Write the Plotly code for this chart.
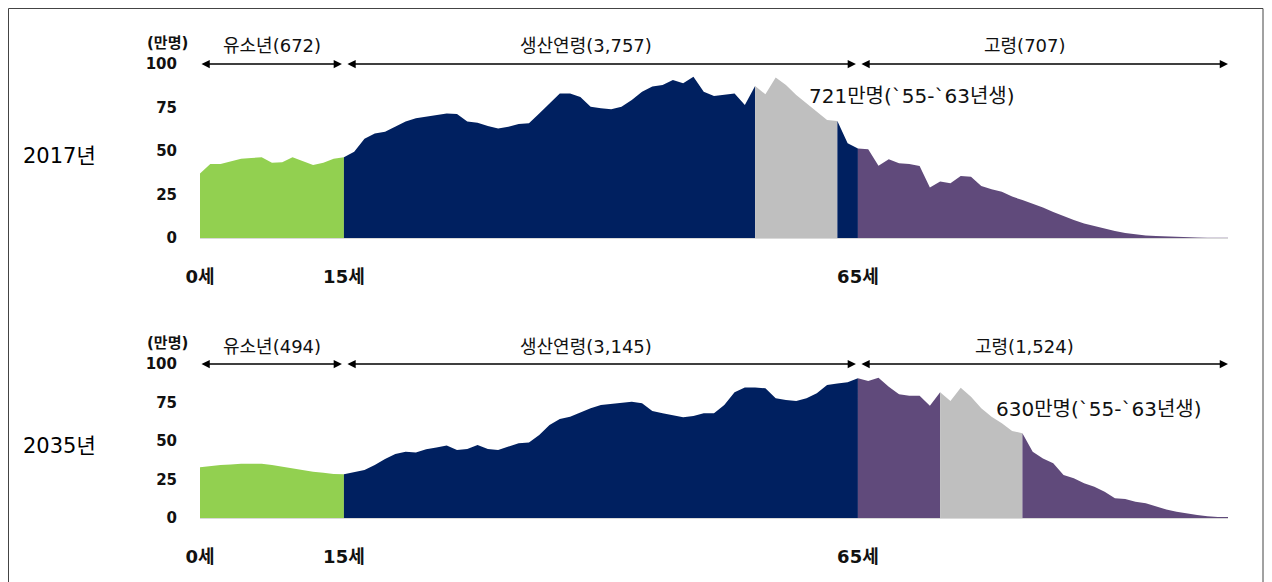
import plotly.graph_objects as go

W, H = 1272, 582
OFF = 8  # the page puts the figure 8px in from the top-left corner

# ages 0..100, population in 만명
ages = list(range(101))

pop_2017 = [
    37, 42.5, 42.5, 44, 45.6, 46, 46.4, 43.3, 43.5, 46.4, 44.3, 42, 43.3, 45.6, 46.4,  # 0-14
    49.6, 57, 60, 61, 64, 67, 68.8, 69.7, 70.7, 71.6,                                 # 15-24
    71.3, 67, 66.3, 64.4, 63, 64, 65.5, 66, 71.6, 77.4,                               # 25-34
    83, 83, 81, 75.5, 74.5, 74, 75.5, 79.3, 84, 87,                                   # 35-44
    88, 90.8, 89, 92.7, 84, 81.6, 82.2, 83, 76.4, 87.4,                               # 45-54
    82.6, 92.3, 88, 82.2, 77.4, 72.6, 67.8, 67.2, 54.4, 51.5,                         # 55-64
    51, 41.5, 45.2, 42.9, 42.5, 41.4, 29, 32.4, 31.4, 35.6,                           # 65-74
    35.2, 29.9, 28, 26.6, 23.8, 21.8, 19.9, 17.6, 15, 12.6,                           # 75-84
    10.3, 8.4, 6.9, 5.4, 4, 2.9, 2.1, 1.5, 1.1, 0.8,                                  # 85-94
    0.6, 0.4, 0.3, 0.2, 0.1, 0.1,                                                     # 95-100
]

pop_2035 = [
    32.9, 33.8, 34.4, 34.8, 35.3, 35.3, 35.3, 34.4, 33.3, 32.3, 31.2, 30.1, 29.4, 28.6, 28.4,  # 0-14
    29.7, 31.2, 34.4, 38.3, 41.6, 43.1, 42.6, 44.6, 45.7, 47,                                 # 15-24
    44.2, 44.8, 47.4, 44.8, 44.2, 46.3, 48.5, 49.1, 53.9, 60.4,                               # 25-34
    64.3, 65.8, 68.6, 71.2, 73.4, 74, 74.5, 75.5, 74.5, 69.5,                                 # 35-44
    68, 66.9, 65.4, 66.2, 68, 68, 73.4, 81.6, 84.8, 84.8,                                     # 45-54
    84.2, 77.7, 76.6, 76, 77.7, 81, 86.4, 87.4, 88.1, 90.7,                                   # 55-64
    89, 91.1, 85.3, 80.3, 79.4, 79.4, 72.9, 81.6, 76, 84.6,                                   # 65-74
    78.8, 71.2, 65.8, 61.5, 56.5, 55, 43.1, 38.7, 35.5, 27.9,                                 # 75-84
    25.8, 22.5, 20.3, 17.1, 12.8, 12.3, 10.6, 9.5, 7.4, 5.6,                                  # 85-94
    4.1, 2.8, 1.9, 1.1, 0.6, 0.6,                                                             # 95-100
]

# age group boundaries (points where the colour changes)
group_bounds = [0, 14, 64, 100]
group_ticks = ["0세", "15세", "65세"]
labels_2017 = ["유소년(672)", "생산연령(3,757)", "고령(707)"]
labels_2035 = ["유소년(494)", "생산연령(3,145)", "고령(1,524)"]

# baby boomers ('55-'63) position in each year
boomer_2017 = (54, 62)
boomer_2035 = (72, 80)
boomer_text_2017 = "721만명(`55-`63년생)"
boomer_text_2035 = "630만명(`55-`63년생)"

years = ["2017년", "2035년"]

GREEN = "#92D050"
NAVY = "#002060"
GRAY = "#BFBFBF"
PURPLE = "#604A7B"
FONT = "DejaVu Sans, Noto Sans CJK KR"

# labels sit a little left of the arrow middles in the original
label_xshift = [0, -15, -18]


def px(x):
    return (x - OFF) / W


def py(y):
    return 1 - (y - OFF) / H


def segments(boomer):
    # cut the age line into coloured pieces
    cuts = sorted(set(group_bounds + list(boomer)))
    out = []
    for a, b in zip(cuts[:-1], cuts[1:]):
        if boomer[0] <= a and b <= boomer[1]:
            col = GRAY
        elif b <= group_bounds[1]:
            col = GREEN
        elif b <= group_bounds[2]:
            col = NAVY
        else:
            col = PURPLE
        out.append((a, b, col))
    return out


fig = go.Figure()

panels = [
    (pop_2017, boomer_2017, labels_2017, boomer_text_2017, "x", "y", (238, 64), (59.0, 81.5)),
    (pop_2035, boomer_2035, labels_2035, boomer_text_2035, "x2", "y2", (518, 364), (77.2, 71)),
]

for i, (pop, boomer, glabels, btext, xa, ya, (py0, py100), bpos) in enumerate(panels):
    for a, b, col in segments(boomer):
        fig.add_trace(go.Scatter(
            x=ages[a:b + 1], y=pop[a:b + 1], xaxis=xa, yaxis=ya,
            mode="lines", fill="tozeroy", fillcolor=col,
            line=dict(width=0, color=col), hoverinfo="skip", showlegend=False,
        ))

    # double-headed arrows and group labels at the 100 line
    for j in range(3):
        a, b = group_bounds[j], group_bounds[j + 1]
        fig.add_annotation(
            x=b, y=100, ax=a, ay=100, xref=xa, yref=ya, axref=xa, ayref=ya,
            text="", showarrow=True, arrowhead=2, arrowside="end+start",
            arrowsize=1.1, arrowwidth=1.5, arrowcolor="#000",
            standoff=2 if j < 2 else 0, startstandoff=2 if j > 0 else 0,
        )
        fig.add_annotation(
            x=(a + b) / 2, y=100, xref=xa, yref=ya, yshift=18,
            xshift=label_xshift[j],
            text=glabels[j], showarrow=False,
            font=dict(family=FONT, size=18, color="#111"),
        )

    fig.add_annotation(
        x=bpos[0], y=bpos[1], xref=xa, yref=ya, xanchor="left", yanchor="middle",
        text=btext, showarrow=False,
        font=dict(family=FONT, size=20, color="#111"),
    )

    # unit label above the y ticks
    fig.add_annotation(
        x=px(167), y=py(py100 - 21), xref="paper", yref="paper",
        xanchor="center", yanchor="middle",
        text="(만명)", showarrow=False,
        font=dict(family=FONT, size=15, color="#111", weight="bold"),
    )

    # year label on the left
    fig.add_annotation(
        x=px(59), y=py((py0 + py100) / 2 + 5), xref="paper", yref="paper",
        xanchor="center", yanchor="middle",
        text=years[i], showarrow=False,
        font=dict(family=FONT, size=21, color="#000"),
    )

xcommon = dict(
    domain=[px(200), px(1228)], range=[0, 100], showgrid=False, zeroline=False,
    showline=True, linecolor="#d9d9d9", linewidth=1, automargin=False,
    tickmode="array", tickvals=group_bounds[:3], ticktext=group_ticks,
    ticks="", ticklabelstandoff=22,
    tickfont=dict(family=FONT, size=18, color="#111", weight="bold"),
)
ycommon = dict(
    range=[0, 100], showgrid=False, zeroline=False, showline=False,
    automargin=False,
    tickmode="array", tickvals=[0, 25, 50, 75, 100], ticks="",
    ticklabelstandoff=22,
    tickfont=dict(family=FONT, size=15, color="#111", weight="bold"),
)

fig.update_layout(
    width=W, height=H,
    margin=dict(l=0, r=0, t=0, b=0, pad=0),
    paper_bgcolor="white", plot_bgcolor="white",
    showlegend=False,
    xaxis=dict(**xcommon, anchor="y"),
    yaxis=dict(**ycommon, anchor="x", domain=[py(238), py(64)]),
    xaxis2=dict(**xcommon, anchor="y2"),
    yaxis2=dict(**ycommon, anchor="x2", domain=[py(518), py(364)]),
    shapes=[dict(
        type="rect", xref="paper", yref="paper",
        x0=0.5 / W, x1=px(1263), y0=-0.05, y1=1 - 0.5 / H,
        line=dict(color="#444", width=1), fillcolor="rgba(0,0,0,0)",
    )],
)

fig.write_html("out.html")
